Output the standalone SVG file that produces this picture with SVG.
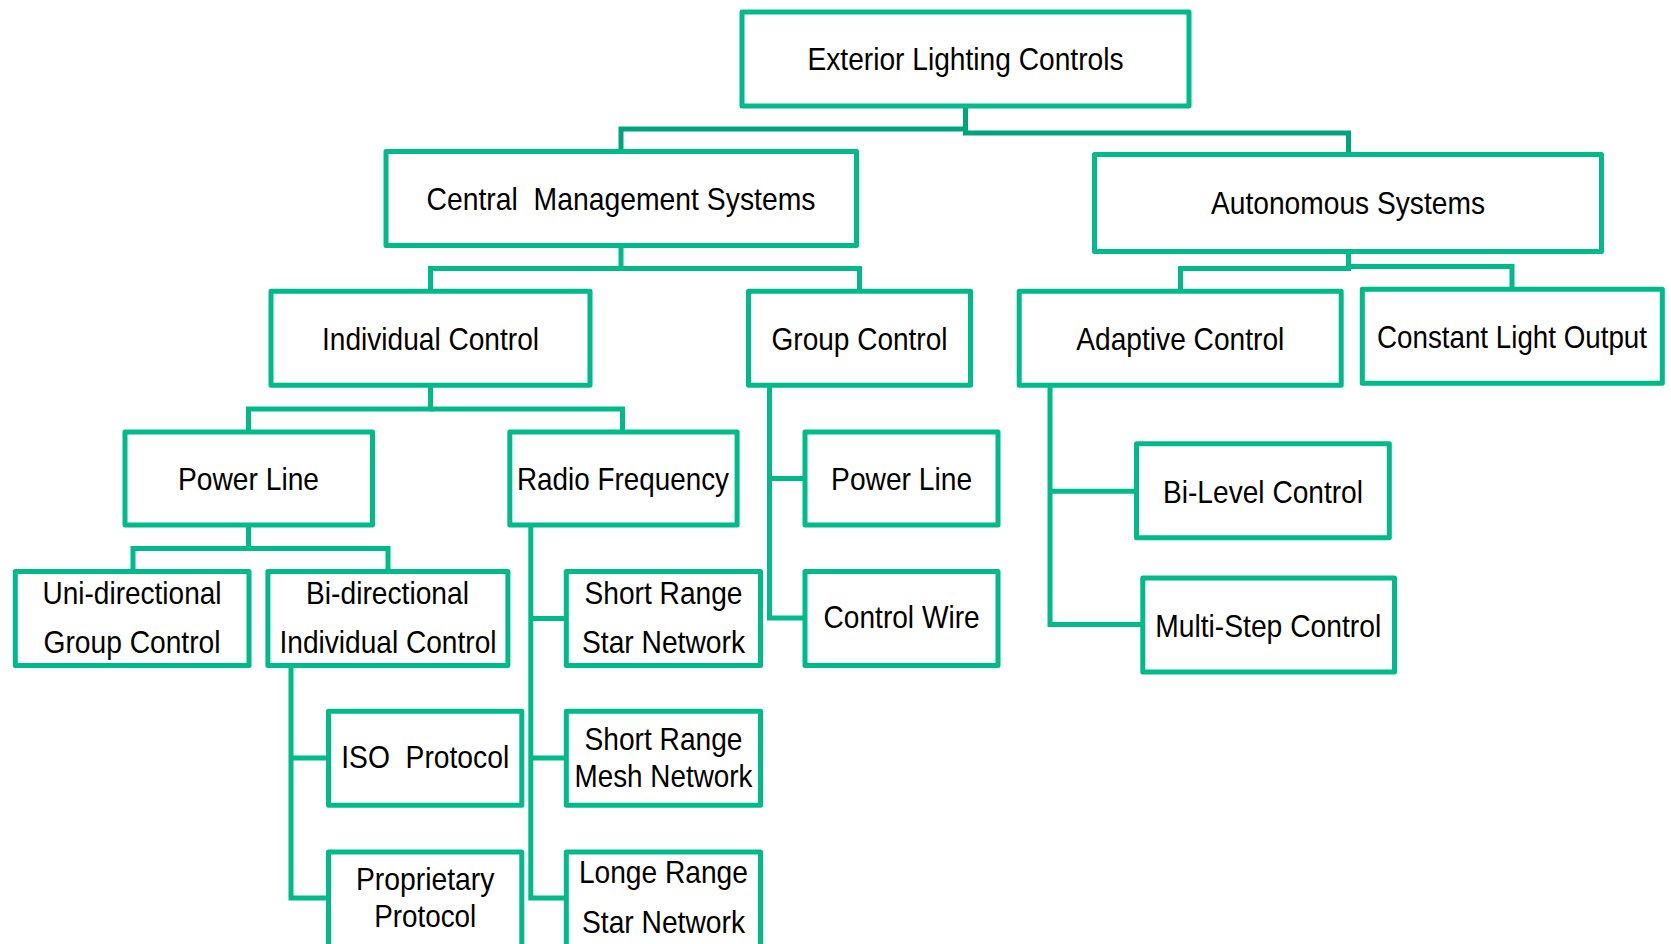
<svg xmlns="http://www.w3.org/2000/svg" width="1671" height="944" viewBox="0 0 1671 944">
<style>
.box{fill:#fff;stroke:#00BA8A;stroke-width:5;stroke-linejoin:round}
.c{fill:none;stroke:#00BA8A;stroke-width:5;stroke-linejoin:miter}
.c2{fill:none;stroke:#00A47C;stroke-width:5}
.t{font-family:"Liberation Sans Narrow","Liberation Sans",Arial,sans-serif;font-size:32px;fill:#000;text-anchor:middle}
</style>
<rect width="1671" height="944" fill="#fff"/>
<g id="connectors">
<path class="c2" d="M621 151 V129 H965.5 V108"/>
<path class="c2" d="M965.5 126 V133 H1348.5 V154"/>
<path class="c" d="M621 246 V268.6 H430.5 V291"/>
<path class="c" d="M621 268.6 H859.5 V291"/>
<path class="c" d="M1348.5 252 V268.5 H1180.5 V291"/>
<path class="c" d="M1348.5 266.5 H1512 V289"/>
<path class="c" d="M430.5 386 V409 H248.5 V432"/>
<path class="c" d="M430.5 409 H622.5 V432"/>
<path class="c" d="M248.5 525 V548.5 H133 V571.5"/>
<path class="c" d="M248.5 548.5 H388 V571.5"/>
<path class="c" d="M769.5 386 V618 H805"/>
<path class="c" d="M769.5 478.5 H805"/>
<path class="c" d="M1050 386 V624.5 H1142.8"/>
<path class="c" d="M1050 491.3 H1136.5"/>
<path class="c" d="M530.8 525 V898 H566.3"/>
<path class="c" d="M530.8 618.5 H566.3"/>
<path class="c" d="M530.8 758 H566.3"/>
<path class="c" d="M291 666 V898 H328.5"/>
<path class="c" d="M291 758 H328.5"/>
</g>
<g id="n-exterior"><rect class="box" x="742" y="12" width="447" height="94"/><text class="t" x="965.5" y="70" textLength="316" lengthAdjust="spacingAndGlyphs">Exterior Lighting Controls</text></g>
<g id="n-cms"><rect class="box" x="386" y="151.5" width="470.5" height="94"/><text class="t" x="621" y="209.5" textLength="389" lengthAdjust="spacingAndGlyphs" xml:space="preserve">Central  Management Systems</text></g>
<g id="n-autonomous"><rect class="box" x="1094.5" y="154.5" width="507" height="97"/><text class="t" x="1348" y="214" textLength="274" lengthAdjust="spacingAndGlyphs">Autonomous Systems</text></g>
<g id="n-individual"><rect class="box" x="271" y="291.3" width="319" height="94"/><text class="t" x="430.5" y="350" textLength="217" lengthAdjust="spacingAndGlyphs">Individual Control</text></g>
<g id="n-group"><rect class="box" x="748.5" y="291.3" width="222" height="94"/><text class="t" x="859.5" y="350" textLength="176" lengthAdjust="spacingAndGlyphs">Group Control</text></g>
<g id="n-adaptive"><rect class="box" x="1019.2" y="291.3" width="322" height="94"/><text class="t" x="1180.3" y="350" textLength="208" lengthAdjust="spacingAndGlyphs">Adaptive Control</text></g>
<g id="n-constant"><rect class="box" x="1362.3" y="289.2" width="300" height="94"/><text class="t" x="1512" y="348" textLength="270" lengthAdjust="spacingAndGlyphs">Constant Light Output</text></g>
<g id="n-powerline-l"><rect class="box" x="125" y="432" width="247.5" height="93"/><text class="t" x="248.5" y="490" textLength="141" lengthAdjust="spacingAndGlyphs">Power Line</text></g>
<g id="n-radio"><rect class="box" x="509.8" y="432" width="227.3" height="93"/><text class="t" x="623" y="490" textLength="212" lengthAdjust="spacingAndGlyphs">Radio Frequency</text></g>
<g id="n-powerline-r"><rect class="box" x="805" y="432" width="193" height="93"/><text class="t" x="901.6" y="490" textLength="141" lengthAdjust="spacingAndGlyphs">Power Line</text></g>
<g id="n-controlwire"><rect class="box" x="805" y="571.5" width="193" height="94"/><text class="t" x="901.6" y="628" textLength="156" lengthAdjust="spacingAndGlyphs">Control Wire</text></g>
<g id="n-bilevel"><rect class="box" x="1136.5" y="443.7" width="252.8" height="94"/><text class="t" x="1263" y="503" textLength="200" lengthAdjust="spacingAndGlyphs">Bi-Level Control</text></g>
<g id="n-multistep"><rect class="box" x="1142.8" y="578" width="251.7" height="94"/><text class="t" x="1268.2" y="637" textLength="226" lengthAdjust="spacingAndGlyphs">Multi-Step Control</text></g>
<g id="n-uni"><rect class="box" x="15.3" y="571.5" width="233.7" height="94"/><text class="t" x="132" y="603.5" textLength="179" lengthAdjust="spacingAndGlyphs">Uni-directional</text><text class="t" x="132" y="653" textLength="177" lengthAdjust="spacingAndGlyphs">Group Control</text></g>
<g id="n-bi"><rect class="box" x="267.9" y="571.5" width="240" height="94"/><text class="t" x="387.5" y="603.5" textLength="163" lengthAdjust="spacingAndGlyphs">Bi-directional</text><text class="t" x="388" y="653" textLength="217" lengthAdjust="spacingAndGlyphs">Individual Control</text></g>
<g id="n-srstar"><rect class="box" x="566.3" y="571.5" width="194.2" height="94"/><text class="t" x="663.5" y="604" textLength="158" lengthAdjust="spacingAndGlyphs">Short Range</text><text class="t" x="663.5" y="653" textLength="163" lengthAdjust="spacingAndGlyphs">Star Network</text></g>
<g id="n-iso"><rect class="box" x="328.5" y="711.2" width="193.3" height="94"/><text class="t" x="425.2" y="768" textLength="168" lengthAdjust="spacingAndGlyphs" xml:space="preserve">ISO  Protocol</text></g>
<g id="n-srmesh"><rect class="box" x="566.3" y="711.2" width="194.2" height="94"/><text class="t" x="663.5" y="750" textLength="158" lengthAdjust="spacingAndGlyphs">Short Range</text><text class="t" x="663.5" y="786.5" textLength="178" lengthAdjust="spacingAndGlyphs">Mesh Network</text></g>
<g id="n-proprietary"><rect class="box" x="328.5" y="851.9" width="193.3" height="120"/><text class="t" x="425.2" y="890" textLength="138.5" lengthAdjust="spacingAndGlyphs">Proprietary</text><text class="t" x="425.2" y="926.5" textLength="102" lengthAdjust="spacingAndGlyphs">Protocol</text></g>
<g id="n-longe"><rect class="box" x="566.3" y="851.9" width="194.2" height="120"/><text class="t" x="663.4" y="883" textLength="169" lengthAdjust="spacingAndGlyphs">Longe Range</text><text class="t" x="663.5" y="933" textLength="163" lengthAdjust="spacingAndGlyphs">Star Network</text></g>
</svg>
